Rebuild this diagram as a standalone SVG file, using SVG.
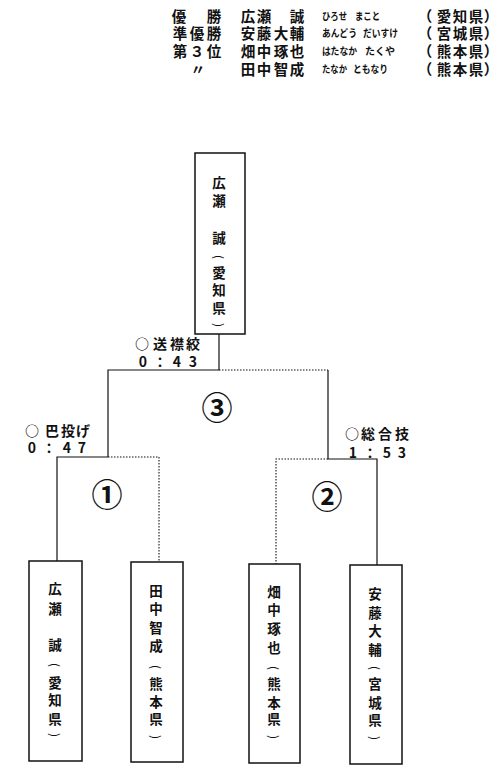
<svg xmlns="http://www.w3.org/2000/svg" width="500" height="778" viewBox="0 0 500 778">
<style>
text{font-family:"Noto Sans CJK JP","Noto Sans CJK SC",sans-serif;font-weight:bold;fill:#111;dominant-baseline:central}
.h{font-size:14.5px;text-anchor:middle}
.k{font-size:10.5px}
.b{font-size:13.5px;text-anchor:middle}
.p{font-size:12px;text-anchor:middle;font-weight:normal}
.l{font-size:14px;text-anchor:middle}
.o{font-size:15px;text-anchor:middle;font-weight:900}
.c{font-size:31px;text-anchor:middle;font-weight:bold}
.box{fill:#fff;stroke:#111;stroke-width:1.5}
.s{fill:none;stroke:#111;stroke-width:1.2}
.d{fill:none;stroke:#111;stroke-width:1.1;stroke-dasharray:1.5 1.5}
</style>
<rect width="500" height="778" fill="#fff"/>
<g id="header">
<text class="h" x="179 214" y="15">優勝</text>
<text class="h" x="180 197 214" y="32">準優勝</text>
<text class="h" x="180 197 214" y="50">第３位</text>
<text class="h" x="198" y="68">〃</text>
<text class="h" x="248 264 297" y="15">広瀬誠</text>
<text class="h" x="248 264 281 297" y="32">安藤大輔</text>
<text class="h" x="248 264 281 297" y="50">畑中琢也</text>
<text class="h" x="248 264 281 297" y="68">田中智成</text>
<text class="k" x="322" y="15" textLength="25" lengthAdjust="spacingAndGlyphs">ひろせ</text>
<text class="k" x="355" y="15" textLength="25" lengthAdjust="spacingAndGlyphs">まこと</text>
<text class="k" x="322" y="32" textLength="35" lengthAdjust="spacingAndGlyphs">あんどう</text>
<text class="k" x="363" y="32" textLength="35" lengthAdjust="spacingAndGlyphs">だいすけ</text>
<text class="k" x="322" y="50" textLength="35" lengthAdjust="spacingAndGlyphs">はたなか</text>
<text class="k" x="365" y="50" textLength="30" lengthAdjust="spacingAndGlyphs">たくや</text>
<text class="k" x="322" y="68" textLength="25" lengthAdjust="spacingAndGlyphs">たなか</text>
<text class="k" x="353" y="68" textLength="35" lengthAdjust="spacingAndGlyphs">ともなり</text>
<text class="h" x="425 444 460 476 491" y="15">（愛知県）</text>
<text class="h" x="425 444 460 476 491" y="32">（宮城県）</text>
<text class="h" x="425 444 460 476 491" y="50">（熊本県）</text>
<text class="h" x="425 444 460 476 491" y="68">（熊本県）</text>
</g>
<g id="connectors">
<path class="s" d="M219 334V370H108V457M108 457H57V562"/>
<path class="d" d="M219 370H328"/>
<path class="s" d="M328 370V459H377V566"/>
<path class="d" d="M108 457H159V563"/>
<path class="d" d="M328 459H276V564"/>
</g>
<g id="final">
<rect class="box" x="195" y="153" width="50" height="181"/>
<text class="b" x="219" y="182">広</text>
<text class="b" x="219" y="200">瀬</text>
<text class="b" x="219" y="237">誠</text>
<text class="p" transform="translate(219 257) rotate(90)">(</text>
<text class="b" x="219" y="272">愛</text>
<text class="b" x="219" y="289">知</text>
<text class="b" x="219" y="307">県</text>
<text class="p" transform="translate(219 325) rotate(90)">)</text>
</g>
<g id="label-final">
<text class="l" x="142 160 177 193" y="343">○送襟絞</text>
<text class="l" x="143 160 177 193" y="361">0：43</text>
</g>
<g id="label-m1">
<text class="l" x="32 52 68 83" y="430">○巴投げ</text>
<text class="l" x="32 49 67 82" y="447">0：47</text>
</g>
<g id="label-m2">
<text class="l" x="352 368 385 402" y="433">○総合技</text>
<text class="l" x="353 370 387 402" y="452">1：53</text>
</g>
<g id="match-numbers">
<text class="c" x="217" y="405">③</text>
<text class="c" x="107" y="492">①</text>
<text class="c" x="327" y="494">②</text>
</g>
<g id="p1">
<rect class="box" x="29" y="561" width="53" height="200"/>
<text class="b" x="55" y="588">広</text>
<text class="b" x="55" y="608">瀬</text>
<text class="b" x="55" y="644">誠</text>
<text class="p" transform="translate(55 665) rotate(90)">(</text>
<text class="b" x="55" y="682">愛</text>
<text class="b" x="55" y="699">知</text>
<text class="b" x="55" y="718">県</text>
<text class="p" transform="translate(55 735) rotate(90)">)</text>
</g>
<g id="p2">
<rect class="box" x="131" y="562" width="52" height="200"/>
<text class="b" x="156" y="590">田</text>
<text class="b" x="156" y="608">中</text>
<text class="b" x="156" y="627">智</text>
<text class="b" x="156" y="645">成</text>
<text class="p" transform="translate(156 667) rotate(90)">(</text>
<text class="b" x="156" y="683">熊</text>
<text class="b" x="156" y="701">本</text>
<text class="b" x="156" y="718">県</text>
<text class="p" transform="translate(156 737) rotate(90)">)</text>
</g>
<g id="p3">
<rect class="box" x="249" y="564" width="51" height="199"/>
<text class="b" x="274" y="591">畑</text>
<text class="b" x="274" y="609">中</text>
<text class="b" x="274" y="628">琢</text>
<text class="b" x="274" y="647">也</text>
<text class="p" transform="translate(274 668) rotate(90)">(</text>
<text class="b" x="274" y="683">熊</text>
<text class="b" x="274" y="702">本</text>
<text class="b" x="274" y="718">県</text>
<text class="p" transform="translate(274 737) rotate(90)">)</text>
</g>
<g id="p4">
<rect class="box" x="350" y="565" width="52" height="199"/>
<text class="b" x="375" y="593">安</text>
<text class="b" x="375" y="612">藤</text>
<text class="b" x="375" y="630">大</text>
<text class="b" x="375" y="649">輔</text>
<text class="p" transform="translate(375 668) rotate(90)">(</text>
<text class="b" x="375" y="683">宮</text>
<text class="b" x="375" y="702">城</text>
<text class="b" x="375" y="719">県</text>
<text class="p" transform="translate(375 738) rotate(90)">)</text>
</g>
</svg>
